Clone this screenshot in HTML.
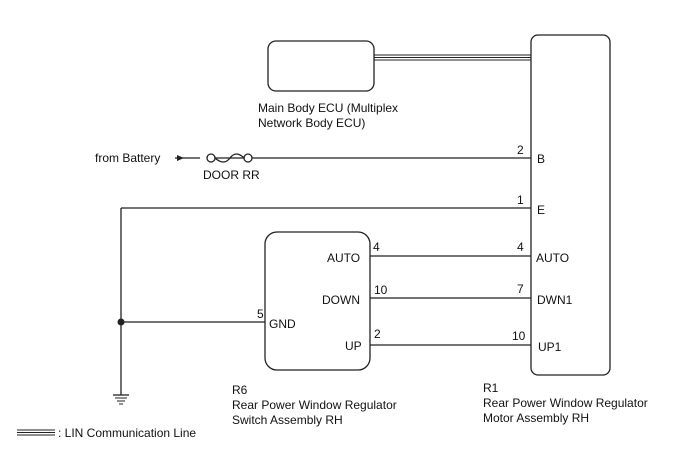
<!DOCTYPE html>
<html><head><meta charset="utf-8"><style>
body{margin:0;background:#fff}
svg text{font-family:"Liberation Sans",sans-serif;font-size:12px;fill:#111}
</style></head><body>
<svg width="688" height="463" viewBox="0 0 688 463" xmlns="http://www.w3.org/2000/svg">
<g fill="none" stroke="#222" stroke-width="1.3">
<rect x="268" y="41" width="106" height="50" rx="8"/>
<rect x="531" y="35" width="79" height="340" rx="7"/>
<rect x="265" y="232" width="105" height="138" rx="12"/>
<line x1="374" y1="55" x2="531" y2="55" stroke-width="1"/>
<line x1="374" y1="57.5" x2="531" y2="57.5" stroke-width="1"/>
<line x1="374" y1="60" x2="531" y2="60" stroke-width="1"/>
<line x1="175" y1="158" x2="200" y2="158"/>
<line x1="215" y1="158" x2="531" y2="158"/>
<circle cx="211" cy="158" r="4" fill="#fff"/>
<circle cx="248" cy="158" r="4" fill="#fff"/>
<path d="M215 158 Q224 166 230 158 Q236 150 244 158"/>
<line x1="121" y1="208" x2="531" y2="208"/>
<line x1="121" y1="208" x2="121" y2="395"/>
<line x1="121" y1="322" x2="265" y2="322"/>
<line x1="370" y1="256" x2="531" y2="256"/>
<line x1="370" y1="298" x2="531" y2="298"/>
<line x1="370" y1="345" x2="531" y2="345"/>
<line x1="113" y1="395" x2="129" y2="395"/>
<line x1="115" y1="398" x2="127" y2="398" stroke-width="1"/>
<line x1="117" y1="401" x2="125" y2="401" stroke-width="1"/>
<line x1="119" y1="404" x2="123" y2="404" stroke-width="1"/>
<line x1="17" y1="430" x2="55" y2="430" stroke-width="1"/>
<line x1="17" y1="432.5" x2="55" y2="432.5" stroke-width="1"/>
<line x1="17" y1="435" x2="55" y2="435" stroke-width="1"/>
</g>
<polygon points="184,158 177,155 177,161" fill="#222"/>
<circle cx="121" cy="322" r="3.5" fill="#222"/>
<text x="258" y="112">Main Body ECU (Multiplex</text>
<text x="258" y="127">Network Body ECU)</text>
<text x="95" y="162">from Battery</text>
<text x="203" y="179">DOOR RR</text>
<text x="517" y="154">2</text><text x="537" y="163">B</text>
<text x="517" y="204">1</text><text x="537" y="214">E</text>
<text x="517" y="251">4</text><text x="536" y="262">AUTO</text>
<text x="517" y="293">7</text><text x="537" y="304">DWN1</text>
<text x="512" y="340">10</text><text x="538" y="351">UP1</text>
<text x="373" y="251">4</text><text x="327" y="262">AUTO</text>
<text x="374" y="294">10</text><text x="322" y="304">DOWN</text>
<text x="374" y="338">2</text><text x="345" y="350">UP</text>
<text x="257" y="318">5</text><text x="269" y="328">GND</text>
<text x="232" y="394">R6</text>
<text x="232" y="409">Rear Power Window Regulator</text>
<text x="232" y="424">Switch Assembly RH</text>
<text x="483" y="392">R1</text>
<text x="483" y="407">Rear Power Window Regulator</text>
<text x="483" y="422">Motor Assembly RH</text>
<text x="58" y="437">: LIN Communication Line</text>
</svg>
</body></html>
